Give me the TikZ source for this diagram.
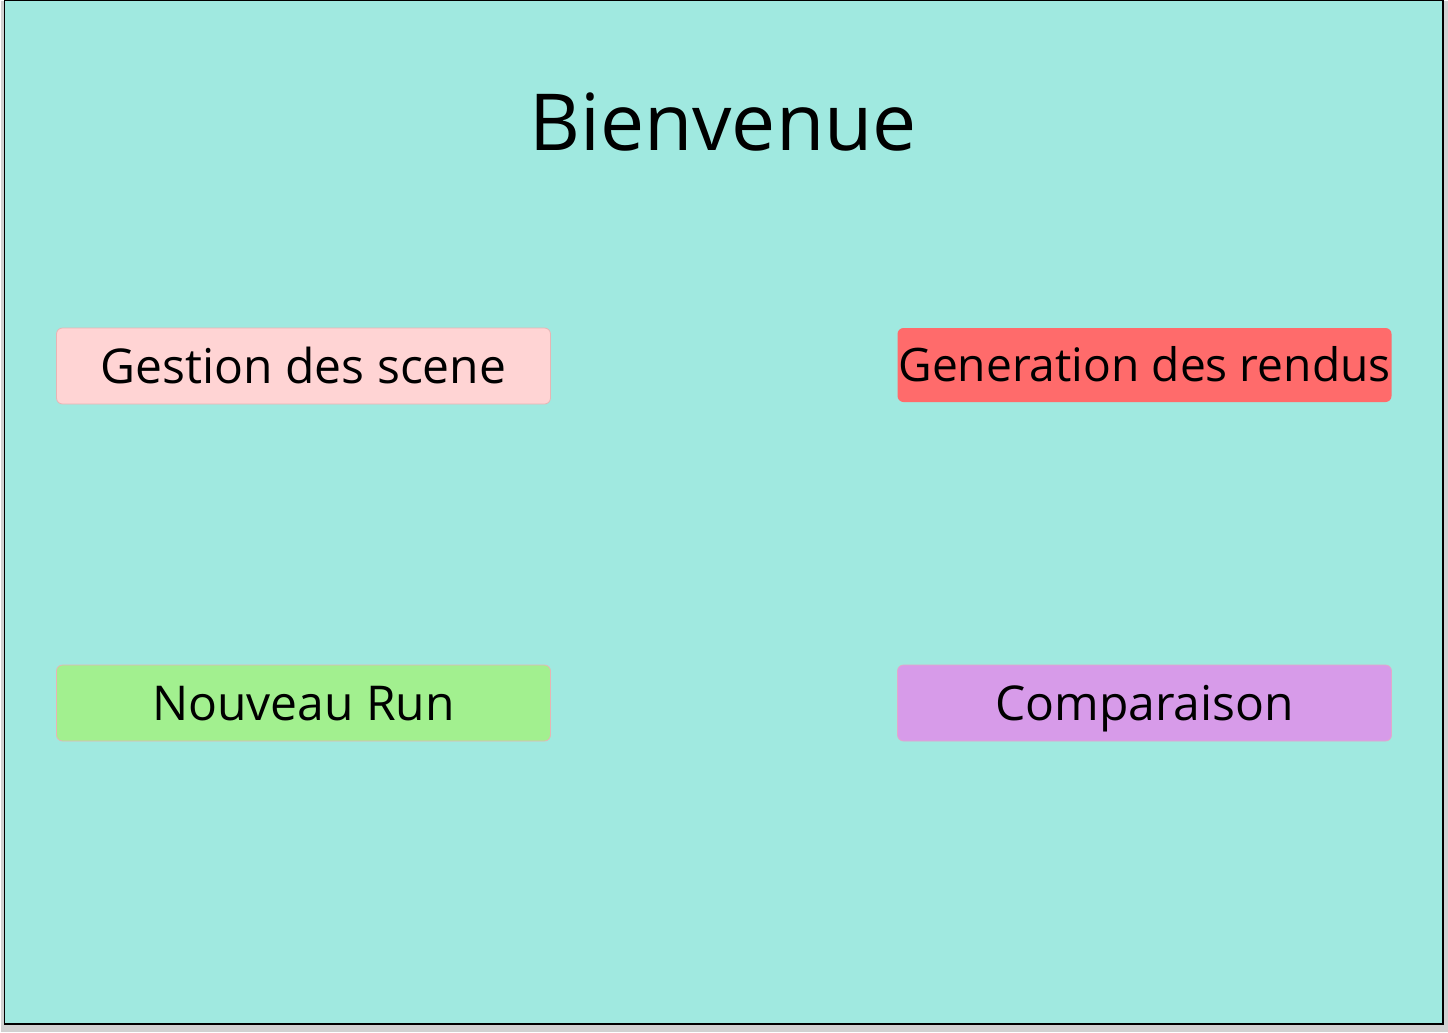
\documentclass[tikz,border=0pt]{standalone}
\usepackage{fontspec}
\setmainfont{Open Sans}
\usepackage{xcolor}
\usetikzlibrary{shapes,positioning}

\definecolor{fondecran}{HTML}{A0E9E0}
\definecolor{rose}{HTML}{FFD4D4}
\definecolor{rouge}{HTML}{FF6B6B}
\definecolor{vert}{HTML}{A2F08F}
\definecolor{violet}{HTML}{D79BE9}
\definecolor{bordrose}{HTML}{E8B4B4}

\begin{document}
\begin{tikzpicture}[x=0.75pt, y=-0.75pt]
  \tikzstyle{bouton}=[rectangle, rounded corners=4.5pt, minimum width=370.5pt, minimum height=57pt, inner sep=0pt, font=\fontsize{36}{42}\selectfont, text height=25.8pt, text depth=0pt, align=center]
  \tikzstyle{titre}=[font=\fontsize{59}{70}\selectfont, inner sep=0pt, anchor=base]

  \useasboundingbox (0,0) rectangle (1448,1032);

  % Fond de la fenetre
  \fill[black!18] (1,1) rectangle (1448,1032);
  \filldraw[fill=fondecran, draw=black, line width=1.2pt] (4.5,0.5) rectangle (1443,1024);

  % Titre
  \node[titre] (bienvenue) at (723,150) {Bienvenue};

  % Boutons
  \node[bouton, fill=rose, draw=bordrose, line width=0.6pt] (scenes) at (303.5,366) {Gestion des scene};
  \node[bouton, fill=rouge, minimum height=55.5pt, font=\fontsize{34.6}{40}\selectfont, text height=24.8pt] (rendus) at (1144.5,365) {Generation des rendus};
  \node[bouton, fill=vert, draw=bordrose, line width=0.6pt] (run) at (303.5,703) {Nouveau Run};
  \node[bouton, fill=violet, draw=bordrose!60!violet, line width=0.6pt] (comparaison) at (1144.5,703) {Comparaison};
\end{tikzpicture}
\end{document}
